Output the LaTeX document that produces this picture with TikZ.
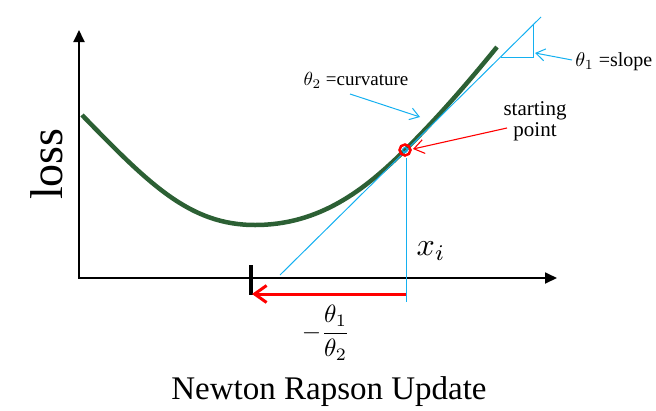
\documentclass[tikz,border=0pt]{standalone}
\usepackage{fontspec}
\setmainfont{Liberation Serif}
\usetikzlibrary{arrows.meta}
\definecolor{curvegreen}{RGB}{44,96,52}
\definecolor{tanblue}{RGB}{20,176,240}
\begin{document}
\begin{tikzpicture}[x=1pt,y=-1pt,
  axis/.style={line width=1.8pt,-{Triangle[length=12pt,width=11pt]}},
  tanline/.style={tanblue,line width=1pt},
  bluearrow/.style={tanblue,line width=1pt,-{Straight Barb[length=9pt,width=12pt]}},
  redthin/.style={red,line width=1.1pt,-{Straight Barb[length=10pt,width=14pt]}},
  redthick/.style={red,line width=3pt,-{Straight Barb[length=12pt,width=17pt]}},
  lbl/.style={inner sep=0pt},
  mathlbl/.style={inner sep=0pt,font=\fontsize{10}{12}\selectfont,transform shape},
]
\useasboundingbox (0,0) rectangle (656,410);

% axes
\coordinate (O) at (79,278);
\coordinate (ytop) at (79,30);
\coordinate (xend) at (557,278);
\draw[axis] ([yshift=1pt]O) -- (ytop);
\draw[axis] ([xshift=-1pt]O) -- (xend);

% loss curve
\coordinate (c0) at (82,115);
\coordinate (cmin) at (255,225);
\coordinate (P) at (405,150);
\coordinate (c3) at (497,47);
\draw[curvegreen,line width=4.5pt]
  (c0) .. controls (150,185) and (190,225) .. (cmin)
       .. controls (320,225) and (365,189.5) .. (P)
       .. controls (440,115.4) and (470,80) .. (c3);

% tangent line and slope triangle
\coordinate (t0) at (280,275);
\coordinate (t1) at (541,17);
\draw[tanline] (t0) -- (t1);
\coordinate (tri1) at (501,57);
\coordinate (tri2) at (533,57);
\coordinate (tri3) at (533,25);
\draw[tanline] (tri1) -- (tri2) -- (tri3);

% vertical line at x_i
\coordinate (v0) at (406,158);
\coordinate (v1) at (406,302);
\draw[tanline] (v0) -- (v1);

% starting point marker
\draw[red,line width=2.5pt] (P) circle[radius=5.5pt];
\draw[tanblue,line width=1pt] (P) circle[radius=2.5pt];

% tick at new point
\coordinate (k0) at (251,265);
\coordinate (k1) at (251,295);
\draw[black,line width=4pt] (k0) -- (k1);

% update arrow
\coordinate (r0) at (406,294);
\coordinate (r1) at (252,294);
\draw[redthick] (r0) -- (r1);

% labels
\node[lbl,font=\fontsize{46}{46}\selectfont,rotate=90] (loss) at (47,164) {loss};
\node[lbl,font=\fontsize{33}{33}\selectfont] (title) at (329,392) {Newton Rapson Update};
\node[mathlbl,scale=3.2] (xi) at (431,251) {$x_i$};
\node[mathlbl,scale=2.5] (frac) at (326,333) {$-\displaystyle\frac{\theta_1}{\theta_2}$};
\node[lbl,font=\fontsize{21}{21}\selectfont,align=center] (sp) at (535,121) {starting\\point};
\node[mathlbl,scale=2.0,anchor=west] (slope) at (575,62) {$\theta_1$ =slope};
\node[mathlbl,scale=1.9] (curv) at (356,80) {$\theta_2$ =curvature};

% annotation arrows
\coordinate (sa) at (572,60);
\coordinate (sb) at (535,53);
\draw[bluearrow] (sa) -- (sb);
\coordinate (ca) at (350,94);
\coordinate (cb) at (420,117);
\draw[bluearrow] (ca) -- (cb);
\coordinate (pa) at (507,128);
\coordinate (pb) at (413,149);
\draw[redthin] (pa) -- (pb);
\end{tikzpicture}
\end{document}
